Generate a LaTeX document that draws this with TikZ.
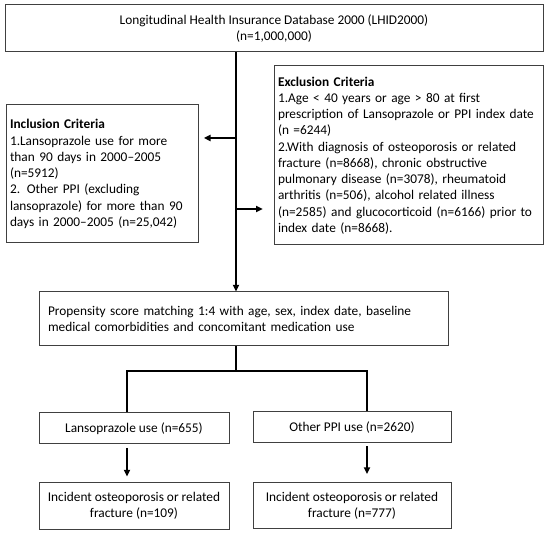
\documentclass[tikz,border=0pt]{standalone}
\usepackage{fontspec}
\setmainfont{Carlito}
\usetikzlibrary{arrows.meta}

\begin{document}
\begin{tikzpicture}[x=0.75pt,y=-0.75pt,font=\fontsize{10}{12.2}\selectfont,
    >={Triangle[length=5pt,width=4.5pt]}]

        \useasboundingbox (0,0) rectangle (550,534);

        \begin{scope}[every node/.style={draw=black!75, line width=0.75pt, inner sep=3pt}]
          \node[minimum width=403.5pt, minimum height=35.25pt, align=center] (1) at (274,28.5)
            {Longitudinal Health Insurance Database 2000 (LHID2000)\\(n=1,000,000)};
          \node[text width=138pt, minimum height=103.5pt, align=left] (2) at (102,174)
            {\textbf{Inclusion Criteria}\\1.Lansoprazole use for more\\than 90 days in 2000–2005\\(n=5912)\\2. Other PPI (excluding\\lansoprazole) for more than 90\\days in 2000–2005 (n=25,042)};
          \node[text width=195.75pt, minimum height=134.25pt, align=left] (3) at (408.5,155.5)
            {\textbf{Exclusion Criteria}\\1.Age < 40 years or age > 80 at first\\prescription of Lansoprazole or PPI index date\\(n =6244)\\2.With diagnosis of osteoporosis or related\\fracture (n=8668), chronic obstructive\\pulmonary disease (n=3078), rheumatoid\\arthritis (n=506), alcohol related illness\\(n=2585) and glucocorticoid (n=6166) prior to\\index date (n=8668).};
          \node[text width=293.25pt, inner xsep=6.75pt, minimum height=40.5pt, align=left] (4) at (243.5,319)
            {Propensity score matching 1:4 with age, sex, index date, baseline\\medical comorbidities and concomitant medication use};
          \node[minimum width=142.5pt, minimum height=23.25pt, align=center] (5) at (134,428.5)
            {Lansoprazole use (n=655)};
          \node[minimum width=148.5pt, minimum height=23.25pt, align=center] (6) at (352,427.5)
            {Other PPI use (n=2620)};
          \node[minimum width=142.5pt, minimum height=34.5pt, align=center] (7) at (134,506)
            {Incident osteoporosis or related\\fracture (n=109)};
          \node[minimum width=148.5pt, minimum height=34.5pt, align=center] (8) at (352,505.5)
            {Incident osteoporosis or related\\fracture (n=777)};
        \end{scope}

        \coordinate (a) at (236,0);
        \coordinate (b) at (236,138);
        \coordinate (c) at (236,209);
        \coordinate (d) at (236,371);
        \coordinate (l) at (127,371);
        \coordinate (r) at (367,371);

        \begin{scope}[line width=1.5pt]
          \draw[->] (1.south -| a) -- (4.north -| a);
          \draw[->, shorten >=4pt] (b) -- (b -| 2.east);
          \draw[->, shorten >=8pt] (c) -- (c -| 3.west);
          \draw (4.south -| d) -- (d);
          \draw (l |- 5.north) -- (l) -- (r) -- (r |- 6.north);
          \draw[->, shorten <=2.5pt, shorten >=4.5pt] (l |- 5.south) -- (l |- 7.north);
          \draw[->, shorten <=2pt, shorten >=6pt] (r |- 6.south) -- (r |- 8.north);
        \end{scope}

      \end{tikzpicture}
\end{document}
